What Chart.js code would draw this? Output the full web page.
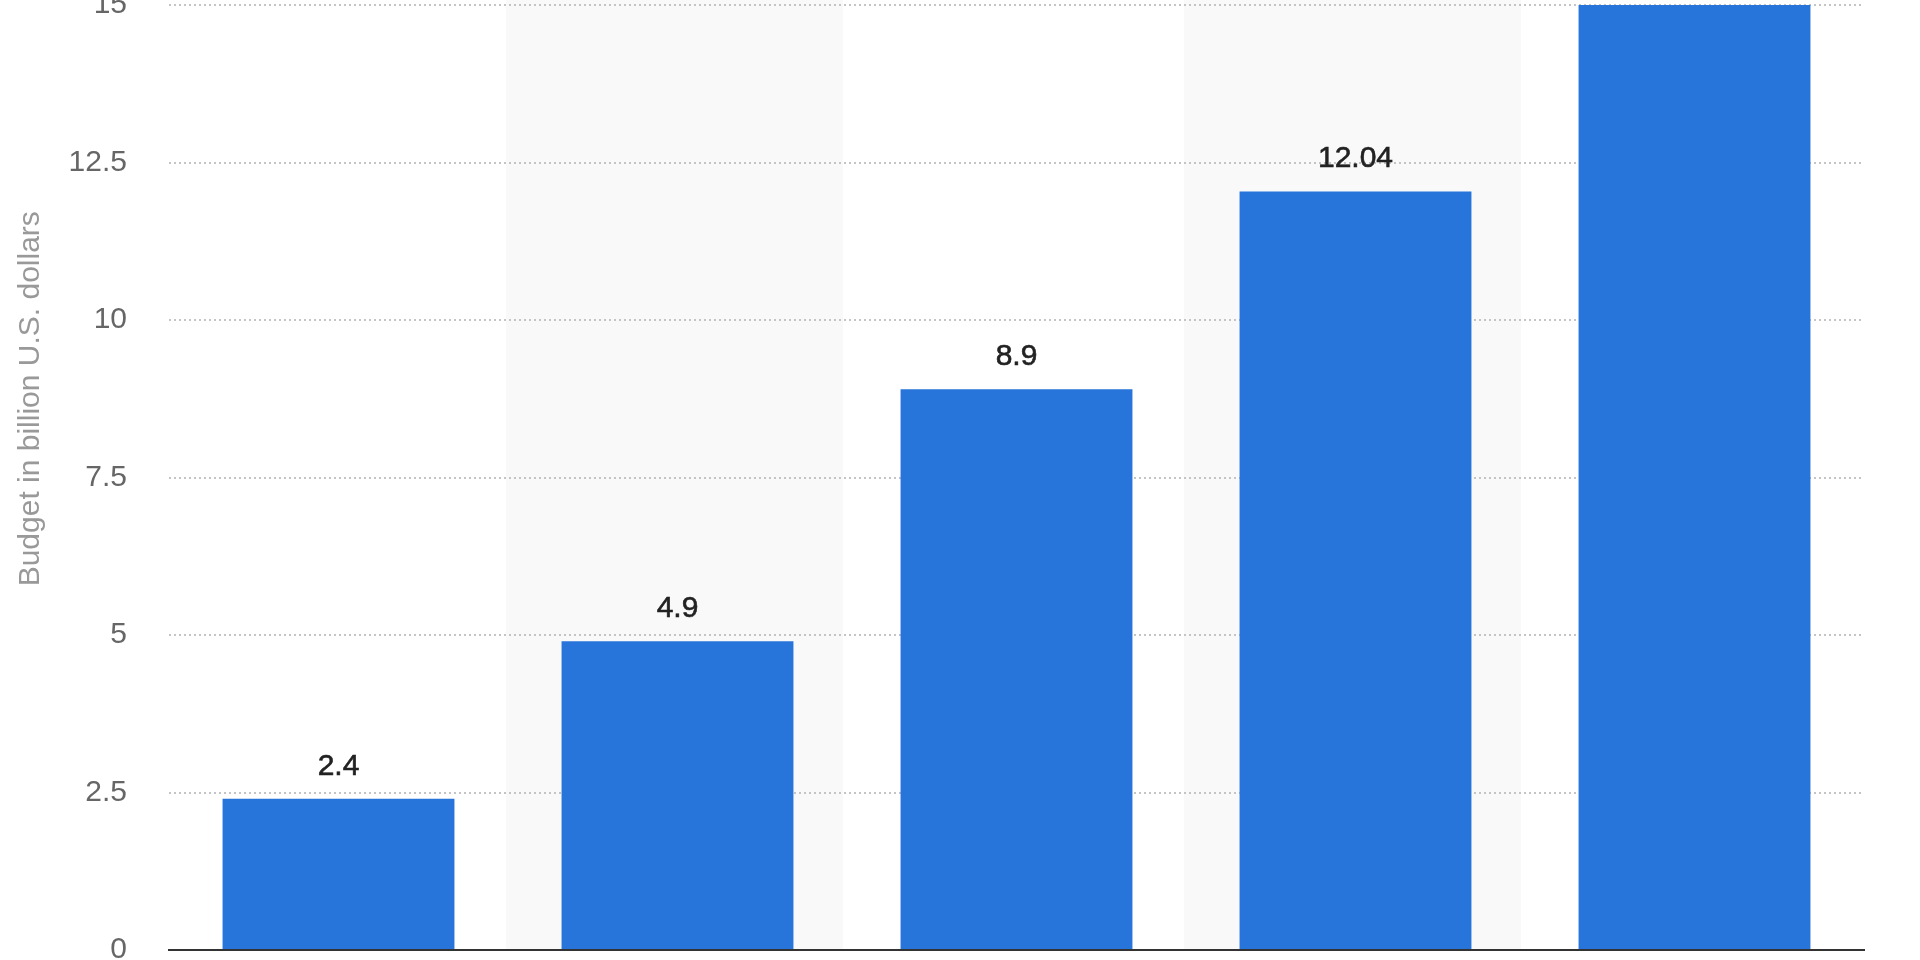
<!DOCTYPE html>
<html>
<head>
<meta charset="utf-8">
<script src="https://cdn.jsdelivr.net/npm/chart.js@4/dist/chart.umd.min.js"></script>
<style>
  html, body { margin: 0; padding: 0; background: #fff; overflow: hidden; width: 1920px; height: 960px; }
  #wrap { position: absolute; left: 0; top: -200px; width: 1920px; height: 1200px; }
</style>
</head>
<body>
<div id="wrap"><canvas id="chart"></canvas></div>
<script>
// categories are cut off in the picture, so they are kept hidden
var categories = ['1', '2', '3', '4', '5'];
var budget = [2.4, 4.9, 8.9, 12.04, 15];
var valueLabels = ['2.4', '4.9', '8.9', '12.04', '15'];
var yTicks = [0, 2.5, 5, 7.5, 10, 12.5, 15, 17.5];

var shadedBands = {
    id: 'shadedBands',
    beforeDraw: function (chart) {
        var ctx = chart.ctx, area = chart.chartArea, x = chart.scales.x;
        var w = (area.right - area.left) / categories.length;
        ctx.save();
        ctx.fillStyle = '#f9f9f9';
        categories.forEach(function (c, i) {
            if (i % 2 === 1) {
                var cx = x.getPixelForValue(i);
                ctx.fillRect(cx - w / 2 - 2, area.top, w - 2, area.bottom - area.top);
            }
        });
        ctx.restore();
    }
};

var barLabels = {
    id: 'barLabels',
    afterDatasetsDraw: function (chart) {
        var ctx = chart.ctx;
        var meta = chart.getDatasetMeta(0);
        ctx.save();
        ctx.font = '30px "Liberation Sans", Arial, sans-serif';
        ctx.fillStyle = '#222';
        ctx.strokeStyle = '#222';
        ctx.lineWidth = 0.6;
        ctx.textAlign = 'center';
        ctx.textBaseline = 'alphabetic';
        meta.data.forEach(function (bar, i) {
            ctx.fillText(valueLabels[i], bar.x, bar.y - 24);
            ctx.strokeText(valueLabels[i], bar.x, bar.y - 24);
        });
        ctx.restore();
    }
};

var chart = new Chart(document.getElementById('chart'), {
    type: 'bar',
    data: {
        labels: categories,
        datasets: [{
            data: budget,
            backgroundColor: '#2774db',
            borderWidth: 0,
            barPercentage: 0.684,
            categoryPercentage: 1
        }]
    },
    options: {
        responsive: true,
        maintainAspectRatio: false,
        devicePixelRatio: 1,
        animation: false,
        layout: { padding: { top: 47.5, left: 0, right: 56, bottom: 0 } },
        plugins: {
            legend: { display: false },
            tooltip: { enabled: false }
        },
        scales: {
            x: {
                grid: { display: false },
                border: { display: true, color: '#333', width: 2 },
                ticks: { display: false },
                afterFit: function (scale) { scale.height = 50; }
            },
            y: {
                min: 0,
                max: 17.5,
                afterBuildTicks: function (scale) {
                    scale.ticks = yTicks.map(function (v) { return { value: v }; });
                },
                grid: {
                    color: '#c4c4c4',
                    lineWidth: 2,
                    drawTicks: true,
                    tickLength: 42,
                    tickColor: 'rgba(0,0,0,0)'
                },
                border: { display: false, dash: [2, 3] },
                ticks: {
                    padding: 0,
                    color: '#666',
                    font: { family: '"Liberation Sans", Arial, sans-serif', size: 30 }
                },
                title: {
                    display: true,
                    text: 'Budget in billion U.S. dollars',
                    color: '#999',
                    padding: { top: 13, bottom: 0 },
                    font: { family: '"Liberation Sans", Arial, sans-serif', size: 30 }
                },
                afterFit: function (scale) { scale.width = 169; }
            }
        }
    },
    plugins: [shadedBands, barLabels]
});
</script>
</body>
</html>
